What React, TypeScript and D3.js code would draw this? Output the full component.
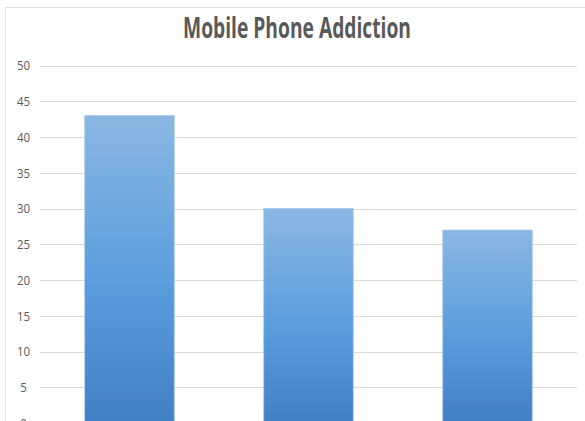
import React from "react";
import * as d3 from "d3";

const categories = ["A", "B", "C"];
const values = [43, 30, 27];
const yTicks = [0, 5, 10, 15, 20, 25, 30, 35, 40, 45, 50];
const title = "Mobile Phone Addiction";

const W = 585;
const H = 421;

export default function App() {
  const x = d3.scaleBand<string>().domain(categories).range([40, 577]).paddingInner(0.5).paddingOuter(0.25);
  const y = d3.scaleLinear().domain([0, 50]).range([423, 65.6]);
  return (
    <svg width={W} height={H} style={{ position: "absolute", left: 0, top: 0, background: "#fff" }}>
      <defs>
        <linearGradient id="barGrad" x1="0" y1="0" x2="0" y2="1">
          <stop offset="0%" stopColor="#8ab7e3" />
          <stop offset="55%" stopColor="#5a9ddd" />
          <stop offset="100%" stopColor="#4080c4" />
        </linearGradient>
      </defs>
      <line x1={5.5} y1={7.5} x2={W} y2={7.5} stroke="#e0e0e0" />
      <line x1={5.5} y1={7.5} x2={5.5} y2={H} stroke="#e0e0e0" />
      <text x={297} y={38.3} textAnchor="middle" fontFamily="'Open Sans', sans-serif" fontWeight="bold" fontSize={29} fill="#595959" textLength={228} lengthAdjust="spacingAndGlyphs">{title}</text>
      {yTicks.map((t) => (
        <g key={t}>
          <line x1={40} x2={577} y1={Math.round(y(t)) + 0.5} y2={Math.round(y(t)) + 0.5} stroke="#d9d9d9" />
          <text x={23.5} y={y(t)} dy="0.35em" textAnchor="middle" fontFamily="'Open Sans', sans-serif" fontSize={13.5} fill="#595959" transform={`translate(${23.5 * 0.15},0) scale(0.85,1)`}>{t}</text>
        </g>
      ))}
      {categories.map((c, i) => (
        <rect key={c} x={x(c)} y={y(values[i])} width={x.bandwidth()} height={y(0) - y(values[i])} fill="url(#barGrad)" stroke="#a9c9ea" strokeWidth={0.8} />
      ))}
    </svg>
  );
}
